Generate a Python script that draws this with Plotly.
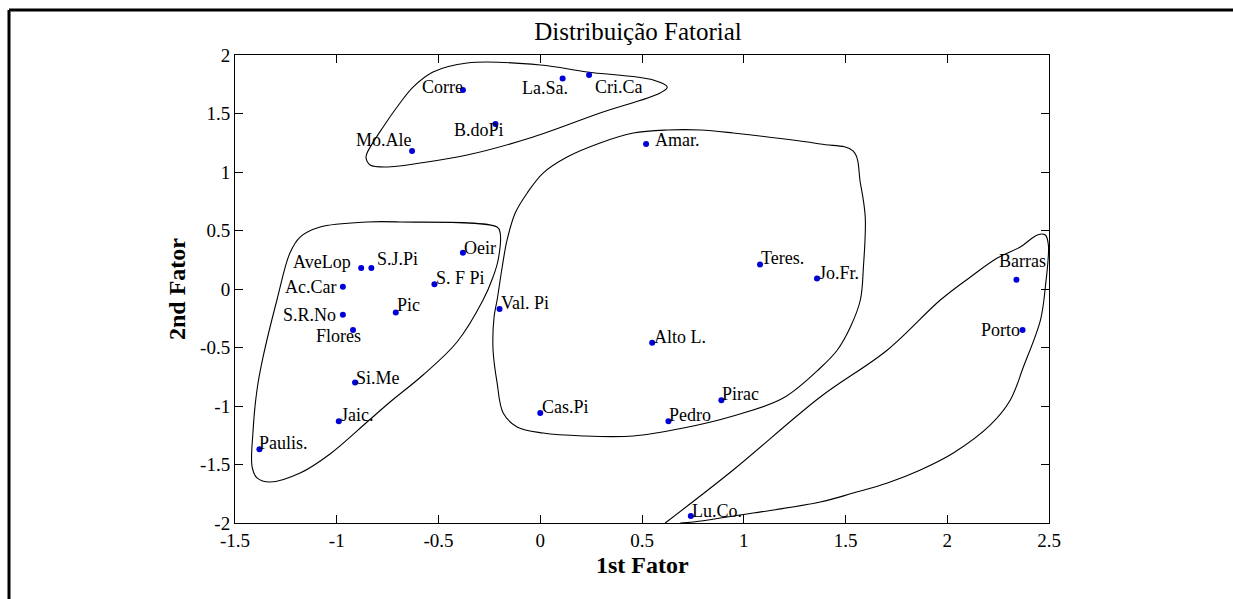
import plotly.graph_objects as go

# ---- data ----
names = ["Mo.Ale", "Corre", "La.Sa.", "Cri.Ca", "B.doPi", "Amar.", "Oeir", "S. F Pi",
         "Teres.", "Jo.Fr.", "Barras", "AveLop", "S.J.Pi", "Ac.Car", "S.R.No", "Pic",
         "Flores", "Si.Me", "Jaic.", "Paulis.", "Val. Pi", "Alto L.", "Pirac", "Pedro",
         "Cas.Pi", "Lu.Co.", "Porto"]
fator1 = [-0.63, -0.38, 0.11, 0.24, -0.22, 0.52, -0.38, -0.52,
          1.08, 1.36, 2.34, -0.88, -0.83, -0.97, -0.97, -0.71,
          -0.92, -0.91, -0.99, -1.38, -0.20, 0.55, 0.89, 0.63,
          0.00, 0.74, 2.37]
fator2 = [1.18, 1.70, 1.80, 1.83, 1.41, 1.24, 0.31, 0.04,
          0.21, 0.09, 0.08, 0.18, 0.18, 0.02, -0.22, -0.20,
          -0.35, -0.80, -1.13, -1.37, -0.17, -0.46, -0.95, -1.13,
          -1.06, -1.94, -0.35]

# group outlines (data coordinates)
top_x = [-0.856, -0.851, -0.772, -0.689, -0.625, -0.527, -0.359, 0.0, 0.231, 0.555, 0.624,
         0.589, 0.294, -0.035, -0.359, -0.590, -0.753, -0.836, -0.856]
top_y = [1.120, 1.162, 1.385, 1.590, 1.726, 1.855, 1.932, 1.915, 1.855, 1.786, 1.726,
         1.675, 1.504, 1.299, 1.145, 1.077, 1.043, 1.060, 1.120]

left_x = [-1.294, -1.230, -1.180, -1.082, -0.851, -0.689, -0.212, -0.197, -0.207, -0.232,
          -0.281, -0.409, -0.576, -0.738, -0.851, -1.033, -1.180, -1.328, -1.392, -1.416,
          -1.412, -1.392, -1.362, -1.294]
left_y = [-0.094, 0.308, 0.444, 0.530, 0.573, 0.573, 0.530, 0.479, 0.248, 0.103,
          -0.094, -0.453, -0.735, -0.966, -1.137, -1.410, -1.573, -1.650, -1.615, -1.521,
          -1.231, -0.863, -0.581, -0.094]

center_x = [-0.212, -0.187, -0.163, -0.123, -0.064, 0.014, 0.132, 0.294, 0.457, 0.624, 0.786,
            0.948, 1.376, 1.538, 1.573, 1.597, 1.588, 1.573, 1.524, 1.460, 1.376, 1.194,
            0.948, 0.703, 0.457, 0.211, 0.014, -0.114, -0.182, -0.212, -0.232, -0.227, -0.212]
center_y = [-0.094, 0.188, 0.419, 0.650, 0.821, 0.991, 1.128, 1.248, 1.333, 1.359, 1.359,
            1.333, 1.239, 1.179, 0.906, 0.615, 0.188, -0.094, -0.325, -0.521, -0.675, -0.932,
            -1.085, -1.188, -1.256, -1.256, -1.231, -1.179, -1.060, -0.803, -0.521, -0.239, -0.094]

right_x = [0.614, 0.948, 1.376, 1.706, 1.966, 2.114, 2.246, 2.359, 2.443, 2.482, 2.497, 2.482,
           2.458, 2.374, 2.310, 2.212, 2.030, 1.868, 1.706, 1.538, 1.376, 1.047, 0.752, 0.688]
right_y = [-2.0, -1.547, -0.923, -0.521, -0.094, 0.103, 0.265, 0.359, 0.462, 0.462, 0.376, 0.017,
           -0.265, -0.667, -0.949, -1.162, -1.402, -1.547, -1.658, -1.744, -1.821, -1.915, -1.991, -2.0]

xticks = [-1.5, -1, -0.5, 0, 0.5, 1, 1.5, 2, 2.5]
xtick_text = ["-1.5", "-1", "-0.5", "0", "0.5", "1", "1.5", "2", "2.5"]
yticks = [-2, -1.5, -1, -0.5, 0, 0.5, 1, 1.5, 2]
ytick_text = ["-2", "-1.5", "-1", "-0.5", "0", "0.5", "1", "1.5", "2"]

# label placement (anchor, x shift px, y shift px)
label_pos = {
    "Mo.Ale": ("right", 1, 11), "Corre": ("right", 1, 3), "La.Sa.": ("right", 6, -10),
    "Cri.Ca": ("left", 5, -12), "B.doPi": ("right", 10, -6), "Amar.": ("left", 8, 4),
    "Oeir": ("left", 0, 5), "S. F Pi": ("left", 1, 6), "Teres.": ("left", 0, 6),
    "Jo.Fr.": ("left", 1, 5), "Barras": ("center", 6, 19), "AveLop": ("right", -9, 6),
    "S.J.Pi": ("left", 5, 9), "Ac.Car": ("right", -6, 0), "S.R.No": ("right", -6, 0),
    "Pic": ("left", 0, 7), "Flores": ("right", 9, -6), "Si.Me": ("left", 0, 5),
    "Jaic.": ("left", 1, 6), "Paulis.": ("left", -1, 6), "Val. Pi": ("left", 0, 6),
    "Alto L.": ("left", 1, 6), "Pirac": ("left", 0, 6), "Pedro": ("left", 0, 6),
    "Cas.Pi": ("left", 1, 6), "Lu.Co.": ("left", 0, 5), "Porto": ("right", -2, 0),
}

SERIF = "Liberation Serif, Times New Roman, serif"
W, H = 1233, 599
ML, MR, MT, MB = 235, 184, 55, 76

fig = go.Figure()
for cx, cy in [(top_x, top_y), (left_x, left_y), (center_x, center_y), (right_x, right_y)]:
    fig.add_trace(go.Scatter(x=cx, y=cy, mode="lines",
                             line=dict(color="black", width=1.1, shape="spline", smoothing=1.0),
                             hoverinfo="skip", showlegend=False))

fig.add_trace(go.Scatter(x=fator1, y=fator2, mode="markers", text=names,
                         marker=dict(color="#0000d8", size=6),
                         showlegend=False))

annotations = []
for n, xv, yv in zip(names, fator1, fator2):
    anc, dx, dy = label_pos[n]
    annotations.append(dict(x=xv, y=yv, xref="x", yref="y", text=n, showarrow=False,
                            xanchor=anc, yanchor="middle", xshift=dx, yshift=dy,
                            borderpad=0, font=dict(family=SERIF, size=18, color="black")))

pw = W - ML - MR
ph = H - MT - MB
annotations.append(dict(x=0.5, y=-(565 - (H - MB)) / ph,
                        xref="paper", yref="paper", text="<b>1st Fator</b>", showarrow=False,
                        xanchor="center", yanchor="middle",
                        font=dict(family=SERIF, size=24, color="black")))
annotations.append(dict(x=(177 - ML) / pw, y=0.5, xref="paper", yref="paper",
                        text="<b>2nd Fator</b>", showarrow=False, textangle=-90,
                        xanchor="center", yanchor="middle",
                        font=dict(family=SERIF, size=24, color="black")))

# outer figure frame (left and top edges visible)
shapes = [
    dict(type="line", xref="paper", yref="paper",
         x0=(9 - ML) / pw, x1=(9 - ML) / pw, y0=1 + (MT - 10) / ph, y1=-(MB + 20) / ph,
         line=dict(color="black", width=3)),
    dict(type="line", xref="paper", yref="paper",
         x0=(9 - ML) / pw, x1=1 + (MR + 20) / pw, y0=1 + (MT - 10) / ph, y1=1 + (MT - 10) / ph,
         line=dict(color="black", width=3)),
]

axis_common = dict(showgrid=False, zeroline=False, showline=True, linecolor="black",
                   linewidth=1, mirror="ticks", ticks="inside", ticklen=8, tickcolor="black",
                   tickwidth=1, tickfont=dict(family=SERIF, size=19, color="black"))

fig.update_layout(
    width=W, height=H,
    margin=dict(l=ML, r=MR, t=MT, b=MB),
    paper_bgcolor="white", plot_bgcolor="white",
    title=dict(text="Distribuição Fatorial", x=(638 - ML) / pw, xref="paper", xanchor="center",
               y=1 - 31 / H, yref="container", yanchor="middle",
               font=dict(family=SERIF, size=25, color="black")),
    xaxis=dict(range=[-1.5, 2.5], tickvals=xticks, ticktext=xtick_text, **axis_common),
    yaxis=dict(range=[-2, 2], tickvals=yticks, ticktext=ytick_text, **axis_common),
    annotations=annotations, shapes=shapes,
)

fig.write_html("out.html", config={"displayModeBar": False},
               post_script="document.body.style.margin='0';document.body.style.overflow='hidden';")
